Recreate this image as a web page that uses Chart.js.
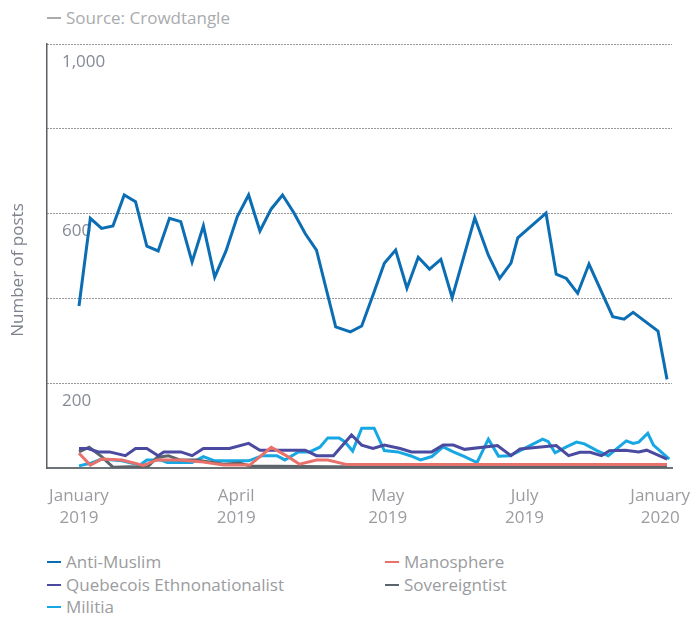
<!DOCTYPE html>
<html>
<head>
<meta charset="utf-8">
<script src="https://cdn.jsdelivr.net/npm/chart.js@4"></script>
<style>
  body { margin: 0; background: #fff; font-family: "Open Sans", sans-serif; }
  #wrap { position: relative; width: 698px; height: 621px; }
  #chart { position: absolute; left: 0; top: 0; }
  .source { position: absolute; left: 47px; top: 6px; font-size: 17px; color: #a9abae; }
  .dash { display: inline-block; width: 14px; height: 2px; vertical-align: middle; margin-right: 5px; position: relative; top: -1px; }
  #legend { position: absolute; left: 47px; top: 551px; display: grid; grid-template-columns: 338px 280px; row-gap: 0; }
  #legend div { font-size: 17px; color: #9a9ca0; line-height: 22.5px; white-space: nowrap; }
</style>
</head>
<body>
<div id="wrap">
  <div class="source"><span class="dash" style="background:#a9abae"></span>Source: Crowdtangle</div>
  <canvas id="chart" width="698" height="530"></canvas>
  <div id="legend"></div>
</div>
<script>
// week numbers across 2019 (0 = first week of January)
const tickWeeks = [0, 13.9, 27.3, 39.4, 51.4];
const tickLabels = [['January', '2019'], ['April', '2019'], ['May', '2019'], ['July', '2019'], ['January', '2020']];
const yLabelled = [200, 600, 1000];

const antiMuslimWeeks = [0, 1, 2, 3, 4, 5, 6, 7, 8, 9, 10, 11, 12, 13, 14, 15, 16, 17, 18, 19, 20, 21, 22.7, 24, 25, 26, 27, 28, 29, 30, 31, 32, 33, 35, 36.2, 37.2, 38.2, 38.8, 41.3, 42.2, 43.1, 44.1, 45.1, 47.2, 48.2, 49, 51.2, 52];
const antiMuslimPosts = [382, 589, 565, 571, 644, 628, 523, 512, 589, 581, 486, 571, 450, 512, 593, 644, 559, 611, 644, 602, 553, 514, 333, 321, 335, 408, 483, 514, 424, 497, 469, 492, 402, 590, 502, 447, 483, 543, 601, 457, 447, 412, 481, 357, 351, 367, 323, 209];

const manosphereWeeks = [0, 1, 2, 3.8, 5.7, 6.9, 8.9, 10.7, 12.8, 15.1, 17, 18.4, 19.5, 21, 22, 23.7, 52];
const manospherePosts = [35, 7, 21, 19, 6, 19, 19, 15, 7, 7, 49, 28, 9, 19, 19, 8, 8];

const quebecoisWeeks = [0, 0.8, 1.7, 2.7, 4.1, 5, 6, 7, 7.5, 9, 10, 11, 13.3, 15, 16, 20, 21, 22.5, 24.1, 25, 26, 27, 28.4, 29.4, 31.2, 32.2, 33.1, 34.1, 37, 38.2, 39, 42.2, 43.3, 44.3, 45.2, 46.2, 46.9, 48.3, 49.5, 50.2, 52];
const quebecoisPosts = [46, 46, 38, 38, 29, 46, 46, 29, 38, 38, 29, 46, 46, 58, 42, 42, 29, 29, 78, 54, 46, 54, 46, 38, 38, 54, 54, 44, 53, 29, 45, 53, 29, 37, 37, 29, 41, 42, 38, 42, 21];

const sovereigntistWeeks = [0, 0.9, 2, 3, 4.5, 6, 6.9, 7.9, 8.9, 10.4, 12.8, 14.2, 15.1, 22, 52];
const sovereigntistPosts = [38, 49, 27, 2, 3, 1, 25, 29, 19, 19, 9, 12, 5, 3, 2];

const militiaWeeks = [0, 1, 2, 3.8, 5.4, 6, 7.2, 7.8, 10, 11, 12, 15, 16.2, 17.5, 18.2, 19.4, 20.4, 21.3, 22, 23, 23.5, 24.2, 25, 26.1, 27, 28.2, 29.3, 30.2, 31.2, 32.2, 33.1, 34, 35.2, 36.2, 37.1, 38.1, 39.1, 41, 41.5, 42.1, 43.1, 44, 44.7, 45.8, 46.8, 48.4, 49, 49.5, 50.3, 50.8, 52.2];
const militiaPosts = [5, 11, 21, 17, 7, 19, 19, 13, 13, 27, 17, 17, 29, 29, 19, 38, 38, 49, 71, 71, 62, 40, 94, 94, 41, 38, 29, 19, 27, 50, 38, 28, 13, 68, 28, 29, 42, 68, 62, 36, 50, 61, 57, 41, 29, 64, 58, 61, 82, 54, 21];

function pts(xs, ys) {
    return xs.map((x, i) => ({ x: x, y: ys[i] }));
}

function series(label, xs, ys, color) {
    return {
        label: label,
        data: pts(xs, ys),
        borderColor: color,
        backgroundColor: color,
        borderWidth: 3,
        pointRadius: 0,
        tension: 0,
        fill: false
    };
}

// y axis title, drawn a little below the middle of the plot like the original
const yTitle = {
    id: 'yTitle',
    afterDraw: function (chart) {
        const area = chart.chartArea;
        const c = chart.ctx;
        c.save();
        c.translate(18, (area.top + area.bottom) / 2 + 14);
        c.rotate(-Math.PI / 2);
        c.font = '17px "Open Sans", sans-serif';
        c.fillStyle = '#7d828c';
        c.textAlign = 'center';
        c.textBaseline = 'middle';
        c.fillText('Number of posts', 0, 0);
        c.restore();
    }
};

Chart.defaults.font.family = '"Open Sans", sans-serif';
Chart.defaults.font.size = 17;

const ctx = document.getElementById('chart').getContext('2d');
const chart = new Chart(ctx, {
    type: 'line',
    data: {
        datasets: [
            series('Anti-Muslim', antiMuslimWeeks, antiMuslimPosts, '#0b6db3'),
            series('Manosphere', manosphereWeeks, manospherePosts, '#e9716b'),
            series('Quebecois Ethnonationalist', quebecoisWeeks, quebecoisPosts, '#4a4aa0'),
            series('Sovereigntist', sovereigntistWeeks, sovereigntistPosts, '#5b646b'),
            series('Militia', militiaWeeks, militiaPosts, '#17a7e3')
        ]
    },
    plugins: [yTitle],
    options: {
        responsive: false,
        animation: false,
        layout: { padding: { top: 44, right: 26, left: 0, bottom: 0 } },
        plugins: {
            legend: { display: false },
            tooltip: { enabled: false }
        },
        scales: {
            x: {
                type: 'linear',
                min: -2.83,
                max: 52.44,
                afterBuildTicks: function (axis) {
                    axis.ticks = tickWeeks.map(v => ({ value: v }));
                },
                afterFit: function (axis) {
                    axis.height = 62;
                    // labels may hang past the plot edge, don't shrink the plot for them
                    axis.paddingLeft = 0;
                    axis.paddingRight = 0;
                },
                ticks: {
                    color: '#9a9ca0',
                    padding: 17,
                    maxRotation: 0,
                    autoSkip: false,
                    font: { size: 17, lineHeight: 1.3 },
                    callback: function (value, index) { return tickLabels[index]; }
                },
                grid: { display: false, drawTicks: false },
                border: { display: true, color: '#6e7378', width: 2 }
            },
            y: {
                min: 0,
                max: 1000,
                afterFit: function (axis) { axis.width = 47; },
                ticks: {
                    stepSize: 200,
                    mirror: true,
                    padding: 15,
                    labelOffset: 18,
                    color: '#848a96',
                    callback: function (value) {
                        return yLabelled.includes(value) ? value.toLocaleString('en-US') : '';
                    }
                },
                grid: { color: '#333', lineWidth: 1, drawTicks: false },
                border: { display: true, color: '#5a5f66', width: 1.5, dash: [1, 2] }
            }
        }
    }
});

// legend built from the chart's datasets, two columns
const legend = document.getElementById('legend');
chart.data.datasets.forEach(function (ds) {
    const item = document.createElement('div');
    item.innerHTML = '<span class="dash" style="background:' + ds.borderColor + '"></span>' + ds.label;
    legend.appendChild(item);
});
</script>
</body>
</html>
